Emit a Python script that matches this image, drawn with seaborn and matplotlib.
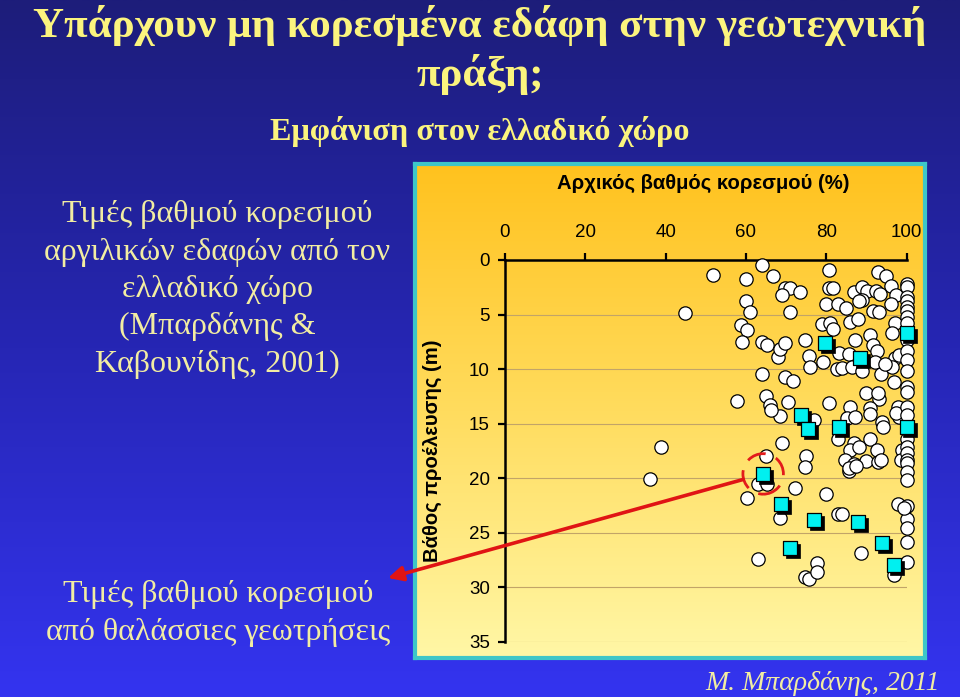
import numpy as np
import pandas as pd
import matplotlib
matplotlib.use("Agg")
import matplotlib.pyplot as plt
import seaborn as sns
from matplotlib.transforms import offset_copy
from matplotlib.colors import LinearSegmentedColormap

# ---------------- data ----------------
clay_saturation = [
    51.8, 44.8, 38.9, 36.0, 57.9,
    64.1, 60.0, 66.8, 60.0, 61.1, 58.8, 60.3, 59.0, 64.0, 65.3, 67.9, 68.5, 64.0,
    65.1, 65.9, 68.4, 68.9, 65.1, 63.0, 65.3, 60.3, 68.5, 63.0, 66.3,
    69.7, 71.0, 68.9, 73.5, 71.0, 69.7, 74.8, 75.8, 75.9, 69.7, 71.7, 70.6, 77.0,
    74.9, 74.7, 72.2, 80.0, 74.8, 75.8, 77.8, 77.8,
    80.7, 92.9, 95.0, 96.1, 80.7, 81.7, 86.8, 89.0, 90.2, 92.4, 93.3, 97.4, 80.0,
    82.9, 85.0, 89.0, 88.1, 91.6, 93.1, 96.1, 85.9, 88.0, 79.0, 80.9, 81.7, 97.2,
    96.5, 90.9, 87.1, 91.7, 92.6, 83.3, 85.8, 79.1, 92.2, 82.6, 83.9, 86.5, 89.0,
    93.7, 97.2, 98.1, 96.5, 96.9, 90.0, 93.1, 92.9, 80.7, 85.9, 97.8, 90.9, 90.9,
    85.2, 87.2, 93.9, 94.1, 98.1, 82.9, 90.9, 86.9, 85.9, 88.1, 92.6, 98.9, 84.6,
    86.9, 89.8, 92.8, 85.7, 98.7, 82.9, 83.9, 88.7, 97.0, 98.0, 94.7, 97.5, 85.8,
    87.4, 93.7,
    100, 100, 100, 100, 100, 100, 100, 100, 100, 100, 100, 100, 100, 100, 100, 100,
    100, 100, 100, 100, 100, 100, 100, 100, 100, 100, 100, 100, 99.5,
]
clay_depth = [
    1.4, 4.9, 17.1, 20.1, 12.9,
    0.5, 1.7, 1.5, 3.8, 4.8, 6.0, 6.4, 7.5, 7.5, 7.8, 8.9, 8.2, 10.4,
    12.5, 13.3, 14.3, 16.8, 18.0, 20.5, 20.5, 21.8, 23.6, 27.4, 13.7,
    2.6, 2.6, 3.2, 2.9, 4.8, 7.6, 7.3, 8.8, 9.8, 10.7, 11.1, 13.0, 14.7,
    18.0, 19.0, 20.9, 21.4, 29.0, 29.2, 27.8, 28.6,
    0.9, 1.1, 1.5, 2.4, 2.6, 2.6, 2.9, 2.5, 2.8, 2.8, 3.1, 3.2, 4.0,
    4.0, 4.4, 3.7, 3.8, 4.7, 4.8, 4.0, 5.7, 5.4, 5.9, 5.8, 6.3, 5.8,
    6.7, 6.9, 7.3, 7.8, 8.3, 8.5, 8.6, 9.3, 9.3, 10.0, 9.9, 9.8, 10.2,
    10.4, 9.0, 8.7, 9.8, 11.2, 12.2, 12.7, 12.2, 13.1, 13.5, 13.5, 13.6, 14.1,
    14.5, 14.4, 14.8, 15.3, 14.4, 16.4, 16.4, 16.8, 17.4, 17.1, 17.4, 17.4, 18.3,
    18.7, 18.4, 18.5, 19.3, 18.3, 23.3, 23.3, 26.8, 28.9, 22.4, 9.5, 14.0, 19.1,
    18.9, 18.3,
    2.2, 2.45, 3.4, 3.8, 4.3, 4.7, 5.2, 5.8, 7.3, 8.3, 9.2, 10.2, 11.6, 12.1, 13.5, 14.2,
    16.4, 17.1, 17.7, 18.3, 18.6, 19.4, 20.2, 22.5, 23.7, 24.6, 25.8, 27.7, 22.7,
]
marine_saturation = [64.3, 68.7, 71.0, 73.8, 75.5, 76.9, 79.6, 83.2, 88.4, 88.0, 94.0, 96.8, 100, 100]
marine_depth = [19.6, 22.4, 26.4, 14.2, 15.5, 23.8, 7.6, 15.3, 9.0, 24.0, 25.9, 27.9, 6.7, 15.3]
highlight_index = 0  # marine sample circled and pointed to

x_ticks = [0, 20, 40, 60, 80, 100]
y_ticks = [0, 5, 10, 15, 20, 25, 30, 35]

title_lines = ["Υπάρχουν μη κορεσμένα εδάφη στην γεωτεχνική", "πράξη;"]
subtitle = "Εμφάνιση στον ελλαδικό χώρο"
left_text_top = ["Τιμές βαθμού κορεσμού", "αργιλικών εδαφών από τον",
                 "ελλαδικό χώρο", "(Μπαρδάνης &", "Καβουνίδης, 2001)"]
left_text_bottom = ["Τιμές βαθμού κορεσμού", "από θαλάσσιες γεωτρήσεις"]
credit = "Μ. Μπαρδάνης, 2011"
x_label = "Αρχικός βαθμός κορεσμού (%)"
y_label = "Βάθος προέλευσης (m)"

clay = pd.DataFrame({"sat": clay_saturation, "depth": clay_depth})
marine = pd.DataFrame({"sat": marine_saturation, "depth": marine_depth})

# ---------------- figure ----------------
W, H = 960, 697
fig = plt.figure(figsize=(W / 100, H / 100), dpi=100)

def fx(px):
    return px / W

def fy(py):
    return 1 - py / H

# slide background gradient
bg = fig.add_axes([0, 0, 1, 1], zorder=0)
bg_cmap = LinearSegmentedColormap.from_list("bg", ["#1d1d7a", "#2626b4", "#3434f0"])
bg.imshow(np.linspace(0, 1, 256).reshape(-1, 1), aspect="auto", cmap=bg_cmap,
          extent=[0, 1, 0, 1], origin="upper")
bg.set_xlim(0, 1)
bg.set_ylim(0, 1)
bg.axis("off")

# chart panel (orange/yellow gradient, teal border)
p_l, p_t, p_r, p_b = 415, 164, 925, 658
panel = fig.add_axes([fx(p_l), fy(p_b), fx(p_r - p_l), (p_b - p_t) / H], zorder=1)
panel_cmap = LinearSegmentedColormap.from_list("panel", ["#ffc21e", "#ffdc5e", "#fff7a6"])
panel.imshow(np.linspace(0, 1, 256).reshape(-1, 1), aspect="auto", cmap=panel_cmap,
             extent=[0, 1, 0, 1], origin="upper")
panel.set_xticks([])
panel.set_yticks([])
for s in panel.spines.values():
    s.set_color("#3ec6c8")
    s.set_linewidth(3)

# data axes
a_l, a_r, a_t, a_b = 505, 906.5, 260, 642
ax = fig.add_axes([fx(a_l), fy(a_b), fx(a_r - a_l), (a_b - a_t) / H], zorder=2)
ax.set_facecolor("none")

sns.scatterplot(data=clay, x="sat", y="depth", ax=ax, marker="o", s=92,
                color="white", edgecolor="black", linewidth=0.9, zorder=3,
                clip_on=False, legend=False)
shadow_tr = offset_copy(ax.transData, fig=fig, x=3, y=-3, units="dots")
sns.scatterplot(data=marine, x="sat", y="depth", ax=ax, marker="s", s=100,
                color="black", edgecolor="black", linewidth=0.5, zorder=4,
                clip_on=False, legend=False, transform=shadow_tr)
sns.scatterplot(data=marine, x="sat", y="depth", ax=ax, marker="s", s=100,
                color="#00f0f0", edgecolor="black", linewidth=0.9, zorder=5,
                clip_on=False, legend=False)

# highlighted sample: dashed red circle
hx, hy = marine_saturation[highlight_index], marine_depth[highlight_index]
ax.scatter([hx], [hy], s=850, facecolors="none", edgecolors="#e31b1b",
           linewidths=2, linestyles=(0, (7, 4)), zorder=6, clip_on=False)

ax.set_xlim(0, 100)
ax.set_ylim(35, 0)
ax.set_xticks(x_ticks)
ax.set_yticks(y_ticks)
ax.xaxis.tick_top()
ax.tick_params(axis="x", top=True, bottom=False, labeltop=True, labelbottom=False,
               direction="out", length=5, width=1.6, pad=9, labelsize=13.5,
               colors="black")
ax.tick_params(axis="y", left=True, direction="out", length=5, width=1.6, pad=6,
               labelsize=13.5, colors="black")
for lab in ax.get_xticklabels() + ax.get_yticklabels():
    lab.set_family(["Liberation Sans", "DejaVu Sans"])

ax.yaxis.grid(True, color="#c2a468", linewidth=0.8)
ax.xaxis.grid(False)
ax.set_axisbelow(True)
for side in ["right", "bottom"]:
    ax.spines[side].set_visible(False)
for side in ["top", "left"]:
    ax.spines[side].set_color("black")
    ax.spines[side].set_linewidth(1.8)

ax.xaxis.set_label_position("top")
ax.set_xlabel(x_label, fontsize=14.6, fontweight="bold",
              family=["Liberation Sans", "DejaVu Sans"])
ax.xaxis.label.set_va("center")
ax.xaxis.set_label_coords((703 - a_l) / (a_r - a_l), 1 + (a_t - 183) / (a_b - a_t))
ax.set_ylabel(y_label, fontsize=14.6, fontweight="bold",
              family=["Liberation Sans", "DejaVu Sans"])
ax.yaxis.label.set_va("center")
ax.yaxis.set_label_coords((432 - a_l) / (a_r - a_l), 0.5)

# red arrow from highlighted sample to the marine-borehole caption
ax.annotate("", xy=(388, H - 578), xycoords="figure pixels",
            xytext=(hx, hy), textcoords="data",
            arrowprops=dict(arrowstyle="-|>", color="#e01414", lw=2.6,
                            mutation_scale=22, shrinkA=15, shrinkB=0),
            zorder=7, annotation_clip=False)

# ---------------- texts ----------------
serif = ["Liberation Serif", "DejaVu Serif"]
title_col = "#fbf47e"
body_col = "#f2eda2"

fig.text(0.5, fy(37), title_lines[0], ha="center", va="baseline", fontsize=31,
         fontweight="bold", color=title_col, family=serif)
fig.text(0.5, fy(86), title_lines[1], ha="center", va="baseline", fontsize=31,
         fontweight="bold", color=title_col, family=serif)
fig.text(0.5, fy(140), subtitle, ha="center", va="baseline", fontsize=23.2,
         fontweight="bold", color=title_col, family=serif)

for line, base in zip(left_text_top, [222, 260, 297, 334, 372]):
    fig.text(fx(217), fy(base), line, ha="center", va="baseline", fontsize=23,
             color=body_col, family=serif)
for line, base in zip(left_text_bottom, [602, 640]):
    fig.text(fx(218), fy(base), line, ha="center", va="baseline", fontsize=23,
             color=body_col, family=serif)

fig.text(fx(940), fy(690), credit, ha="right", va="baseline", fontsize=20,
         style="italic", color=body_col, family=serif)

fig.savefig("out.png", dpi=100)
